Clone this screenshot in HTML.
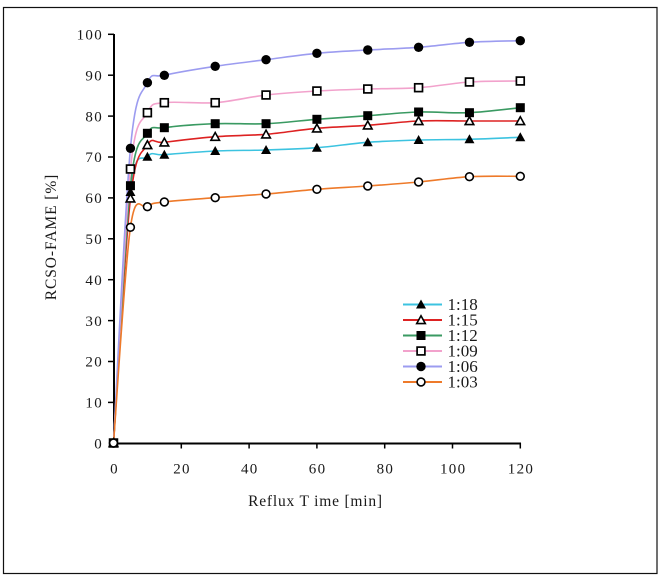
<!DOCTYPE html>
<html><head><meta charset="utf-8"><style>
html,body{margin:0;padding:0;background:#fff;}
svg{display:block;}
text{font-family:"Liberation Serif",serif;fill:#1a1a1a;}
</style></head><body>
<svg id="c" width="665" height="580" viewBox="0 0 665 580" xmlns="http://www.w3.org/2000/svg">
<defs>
<symbol id="mTF" viewBox="-6 -6 12 12" overflow="visible"><polygon points="0,-5 5,4 -5,4" fill="#000"/></symbol>
<symbol id="mTO" viewBox="-6 -6 12 12" overflow="visible"><polygon points="0,-4.2 4.3,3.6 -4.3,3.6" fill="#fff" stroke="#000" stroke-width="1.6"/></symbol>
<symbol id="mSF" viewBox="-6 -6 12 12" overflow="visible"><rect x="-4.5" y="-4.5" width="9" height="9" fill="#000"/></symbol>
<symbol id="mSO" viewBox="-6 -6 12 12" overflow="visible"><rect x="-3.9" y="-3.9" width="7.8" height="7.8" fill="#fff" stroke="#000" stroke-width="1.7"/></symbol>
<symbol id="mCF" viewBox="-6 -6 12 12" overflow="visible"><circle r="4.7" fill="#000"/></symbol>
<symbol id="mCO" viewBox="-6 -6 12 12" overflow="visible"><circle r="3.9" fill="#fff" stroke="#000" stroke-width="1.6"/></symbol>
</defs>
<rect x="3.5" y="7.5" width="653.5" height="566" fill="#fff" stroke="#111" stroke-width="1.2"/>

<!-- axes -->
<line x1="114" y1="34" x2="114" y2="444.5" stroke="#000" stroke-width="2"/>
<line x1="113" y1="443.5" x2="521" y2="443.5" stroke="#000" stroke-width="2"/>
<g stroke="#000" stroke-width="1.5">
<line x1="108" y1="34.3" x2="114" y2="34.3"/>
<line x1="108" y1="75.2" x2="114" y2="75.2"/>
<line x1="108" y1="116.1" x2="114" y2="116.1"/>
<line x1="108" y1="157" x2="114" y2="157"/>
<line x1="108" y1="197.9" x2="114" y2="197.9"/>
<line x1="108" y1="238.8" x2="114" y2="238.8"/>
<line x1="108" y1="279.7" x2="114" y2="279.7"/>
<line x1="108" y1="320.6" x2="114" y2="320.6"/>
<line x1="108" y1="361.5" x2="114" y2="361.5"/>
<line x1="108" y1="402.4" x2="114" y2="402.4"/>
<line x1="181.3" y1="443" x2="181.3" y2="448.5"/>
<line x1="249.1" y1="443" x2="249.1" y2="448.5"/>
<line x1="316.9" y1="443" x2="316.9" y2="448.5"/>
<line x1="384.7" y1="443" x2="384.7" y2="448.5"/>
<line x1="452.5" y1="443" x2="452.5" y2="448.5"/>
<line x1="520.3" y1="443" x2="520.3" y2="448.5"/>
</g>
<g font-size="15" text-anchor="end" letter-spacing="1.3">
<text x="103" y="39.5">100</text>
<text x="103" y="80.4">90</text>
<text x="103" y="121.3">80</text>
<text x="103" y="162.2">70</text>
<text x="103" y="203.1">60</text>
<text x="103" y="244">50</text>
<text x="103" y="284.9">40</text>
<text x="103" y="325.8">30</text>
<text x="103" y="366.7">20</text>
<text x="103" y="407.6">10</text>
<text x="103" y="448.5">0</text>
</g>
<g font-size="15" text-anchor="middle" letter-spacing="1.3">
<text x="114.5" y="473.5">0</text>
<text x="182" y="473.5">20</text>
<text x="249.8" y="473.5">40</text>
<text x="317.6" y="473.5">60</text>
<text x="385.4" y="473.5">80</text>
<text x="453.2" y="473.5">100</text>
<text x="521" y="473.5">120</text>
</g>
<text x="315.5" y="506" font-size="15.5" text-anchor="middle" letter-spacing="0.8">Reflux T ime [min]</text>
<text transform="translate(56,237) rotate(-90)" font-size="15.5" text-anchor="middle" letter-spacing="0.9">RCSO-FAME [%]</text>

<g id="series" fill="none" stroke-width="1.6"></g>
<g id="marks"></g>

<!-- legend -->
<g stroke-width="2">
<line x1="403" y1="304.5" x2="442" y2="304.5" stroke="#3cc3e0"/>
<line x1="403" y1="320" x2="442" y2="320" stroke="#dd2222"/>
<line x1="403" y1="335.5" x2="442" y2="335.5" stroke="#3a9a62"/>
<line x1="403" y1="351" x2="442" y2="351" stroke="#f2a2cc"/>
<line x1="403" y1="366.5" x2="442" y2="366.5" stroke="#9c9cf0"/>
<line x1="403" y1="382" x2="442" y2="382" stroke="#ee7a2a"/>
</g>
<use href="#mTF" x="415" y="298.5" width="12" height="12"/>
<use href="#mTO" x="415" y="314" width="12" height="12"/>
<use href="#mSF" x="415" y="329.5" width="12" height="12"/>
<use href="#mSO" x="415" y="345" width="12" height="12"/>
<use href="#mCF" x="415" y="360.5" width="12" height="12"/>
<use href="#mCO" x="415" y="376" width="12" height="12"/>
<g font-size="17">
<text x="447.5" y="310">1:18</text>
<text x="447.5" y="325.5">1:15</text>
<text x="447.5" y="341">1:12</text>
<text x="447.5" y="356.5">1:09</text>
<text x="447.5" y="372">1:06</text>
<text x="447.5" y="387.5">1:03</text>
</g>
</svg>
<script>
(function(){
var xs=[113.5,130.45,147.4,164.35,215.2,266.05,316.9,367.75,418.6,469.45,520.3];
var S=[
 {c:"#3cc3e0",m:"mTF",y:[443,192,156.7,154.7,151,150,147.7,142.3,140,139.3,137.3]},
 {c:"#dd2222",m:"mTO",y:[443,198.3,145,142.3,136.7,134.3,128.3,125.3,121,121,121]},
 {c:"#3a9a62",m:"mSF",y:[443,185.7,133.3,127.7,123.7,123.7,119.3,115.7,112,112.7,107.7]},
 {c:"#f2a2cc",m:"mSO",y:[443,169,112.7,102.7,102.7,95,91,89,87.7,82,81]},
 {c:"#9c9cf0",m:"mCF",y:[443,148.3,82.7,75.3,66.3,59.7,53.3,50,47.3,42.3,40.7]},
 {c:"#ee7a2a",m:"mCO",y:[443,227.3,206.7,202,197.7,194,189.3,186,182,176.7,176.3]}
];
var NS="http://www.w3.org/2000/svg";
var g=document.getElementById("series"),mk=document.getElementById("marks");
S.forEach(function(s){
 var p=xs.map(function(x,i){return [x,s.y[i]];});
 var d="M"+p[0][0]+","+p[0][1];
 for(var i=0;i<p.length-1;i++){
  var p0=p[i>0?i-1:i],p1=p[i],p2=p[i+1],p3=p[i+2<p.length?i+2:i+1];
  var c1x=p1[0]+(p2[0]-p0[0])/6,c1y=p1[1]+(p2[1]-p0[1])/6;
  var c2x=p2[0]-(p3[0]-p1[0])/6,c2y=p2[1]-(p3[1]-p1[1])/6;
  d+=" C"+c1x.toFixed(2)+","+c1y.toFixed(2)+" "+c2x.toFixed(2)+","+c2y.toFixed(2)+" "+p2[0]+","+p2[1];
 }
 var path=document.createElementNS(NS,"path");
 path.setAttribute("d",d);path.setAttribute("stroke",s.c);
 g.appendChild(path);
});
S.forEach(function(s){
 xs.forEach(function(x,i){
  var u=document.createElementNS(NS,"use");
  u.setAttribute("href","#"+s.m);
  u.setAttribute("x",x-6);u.setAttribute("y",s.y[i]-6);
  u.setAttribute("width",12);u.setAttribute("height",12);
  mk.appendChild(u);
 });
});
})();
</script>
</body></html>
